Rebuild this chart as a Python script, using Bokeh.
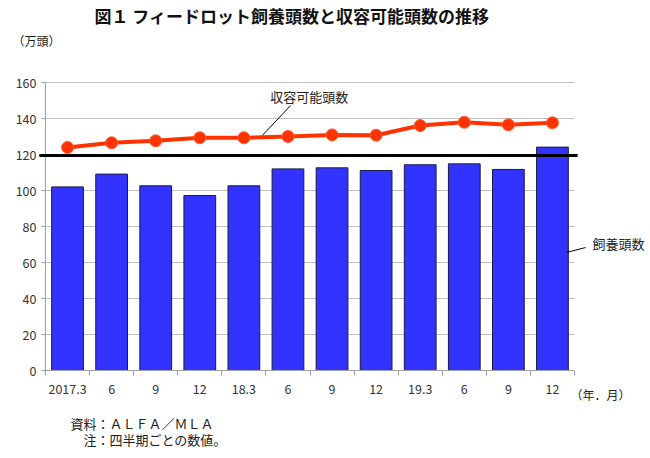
from bokeh.plotting import figure
from bokeh.models import Range1d, FixedTicker, Label, Arrow, ColumnDataSource, LinearAxis
from bokeh.embed import file_html
from bokeh.resources import INLINE

# ---- data ----
periods = ["2017.3", "6", "9", "12", "18.3", "6", "9", "12", "19.3", "6", "9", "12"]
feedlot_head = [102.0, 109.1, 102.6, 97.2, 102.6, 112.0, 112.6, 111.1, 114.3, 114.8, 111.7, 124.1]
capacity_head = [123.9, 126.5, 127.6, 129.3, 129.3, 130.0, 130.9, 130.7, 136.1, 137.9, 136.5, 137.6]
reference_level = 119.4
y_ticks = [0, 20, 40, 60, 80, 100, 120, 140, 160]

title_text = "図１ フィードロット飼養頭数と収容可能頭数の推移"
unit_text = "（万頭）"
xunit_text = "（年．月）"
capacity_label = "収容可能頭数"
feedlot_label = "飼養頭数"
source_text = "資料：ＡＬＦＡ／ＭＬＡ"
note_text = "　注：四半期ごとの数値。"

FONT = "Noto Sans CJK JP"

# ---- layout (pixels) ----
W, H = 646, 452
FL, FR, FT, FB = 45, 574, 82, 370   # plotting area in canvas pixels
YMAX = 160
n = len(periods)
ppx = (FR - FL) / n          # pixels per category
ppy = (FB - FT) / YMAX       # pixels per unit

x_range = Range1d(-FL / ppx, (W - FL) / ppx)
y_range = Range1d(-(H - FB) / ppy, FB / ppy)

xs = [i + 0.5 for i in range(n)]
src = ColumnDataSource(dict(x=xs, feed=feedlot_head, cap=capacity_head))

p = figure(width=W, height=H, x_range=x_range, y_range=y_range,
           output_backend="svg", toolbar_location=None,
           x_axis_location=None, y_axis_location=None,
           min_border=0, min_border_left=0, min_border_right=0,
           min_border_top=0, min_border_bottom=0)
p.outline_line_color = None
p.background_fill_color = "white"
p.border_fill_color = "white"
p.grid.visible = False

# gridlines
p.segment(x0=0, x1=n, y0=y_ticks[1:], y1=y_ticks[1:], line_color="#c0c0c0", line_width=1)

# y axis (fixed at x=0)
yax = LinearAxis(fixed_location=0, bounds=(0, YMAX))
yax.ticker = FixedTicker(ticks=y_ticks)
yax.axis_line_color = "#a0a0a0"
yax.major_tick_line_color = "#a0a0a0"
yax.major_tick_out = 4
yax.major_tick_in = 0
yax.minor_tick_line_color = None
yax.major_label_text_font = FONT
yax.major_label_text_font_size = "12.5px"
yax.major_label_text_color = "#333333"
yax.major_label_standoff = 5
p.add_layout(yax, "left")

# x axis (fixed at y=0)
xax = LinearAxis(fixed_location=0, bounds=(0, n))
xax.ticker = FixedTicker(ticks=xs, minor_ticks=list(range(n + 1)))
xax.major_label_overrides = {x: lab for x, lab in zip(xs, periods)}
xax.axis_line_color = "#a0a0a0"
xax.major_tick_line_color = None
xax.major_tick_out = 0
xax.major_tick_in = 0
xax.minor_tick_line_color = "#a0a0a0"
xax.minor_tick_out = 5
xax.minor_tick_in = 0
xax.major_label_text_font = FONT
xax.major_label_text_font_size = "12.5px"
xax.major_label_text_color = "#333333"
xax.major_label_standoff = 8
p.add_layout(xax, "below")

# bars
p.vbar(x="x", top="feed", width=0.72, bottom=0, source=src,
       fill_color="#3333ff", line_color="#1a1a40", line_width=1)

# reference black line
p.add_layout(Arrow(end=None, x_start=-0.14, y_start=reference_level, x_end=n + 0.07, y_end=reference_level,
                   line_color="black", line_width=3))

# capacity line
p.line(x="x", y="cap", source=src, line_color="#ff3300", line_width=4)
p.scatter(x="x", y="cap", source=src, size=12, fill_color="#ff3300", line_color="#ff5a33", line_width=1)

# leader lines
p.add_layout(Arrow(end=None, x_start=4.92, y_start=130.6, x_end=5.56, y_end=147.2,
                   line_color="black", line_width=1))
p.add_layout(Arrow(end=None, x_start=11.82, y_start=65.6, x_end=12.25, y_end=68.3,
                   line_color="black", line_width=1))

def lab(x, y, text, size="13px", align="left", style="normal", color="#222222"):
    p.add_layout(Label(x=x, y=y, text=text, text_font=FONT, text_font_size=size,
                       text_align=align, text_baseline="middle", text_font_style=style,
                       text_color=color))

lab(5.10, 152.2, capacity_label)
lab(12.41, 70.6, feedlot_label)
lab(5.59, 197.2, title_text, size="17px", align="center", style="bold", color="#111111")
lab(-0.75, 183.3, unit_text, size="12px")
lab(11.91, -13.3, xunit_text, size="12px")
lab(0.567, -29.4, source_text, size="13px")
lab(0.567, -38.3, note_text, size="13px")

open("out.html", "w").write(file_html(p, INLINE))
